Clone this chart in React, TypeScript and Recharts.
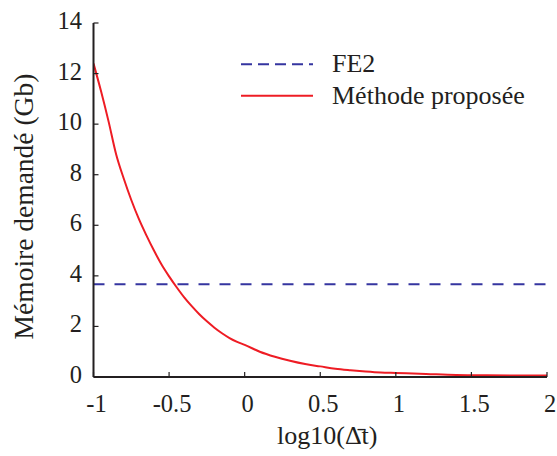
import React from 'react';
import { LineChart, Line, XAxis, YAxis, Legend, Label } from 'recharts';

const xTicks = [-1, -0.5, 0, 0.5, 1, 1.5, 2];
const yTicks = [0, 2, 4, 6, 8, 10, 12, 14];

const fe2X = [-1, 2];
const fe2Values = [3.67, 3.67];

const methodX = [
  -1, -0.95, -0.9, -0.85, -0.8, -0.75, -0.7, -0.65, -0.6, -0.55, -0.5, -0.45, -0.4, -0.35,
  -0.3, -0.25, -0.2, -0.15, -0.1, -0.05, 0, 0.1, 0.2, 0.3, 0.4, 0.5, 0.6, 0.7, 0.8, 0.9, 1.0,
  1.2, 1.4, 1.6, 1.8, 2.0,
];
const methodValues = [
  12.4, 11.3, 10.1, 8.8, 7.85, 7.0, 6.25, 5.6, 5.0, 4.45, 3.98, 3.55, 3.15, 2.8,
  2.48, 2.2, 1.95, 1.73, 1.54, 1.39, 1.27, 1.0, 0.8, 0.64, 0.51, 0.42, 0.33, 0.27, 0.22, 0.18, 0.16,
  0.12, 0.08, 0.065, 0.06, 0.06,
];

const fe2Data = fe2X.map((x, i) => ({ x, y: fe2Values[i] }));
const methodData = methodX.map((x, i) => ({ x, y: methodValues[i] }));

const FONT = "'Liberation Serif', 'Times New Roman', Times, serif";
const INK = '#231f20';
const BLUE = '#3535a0';
const RED = '#ee1c24';

const txtStyle = { fontFamily: FONT };

const XTick = (props: any) => {
  const { x, y, payload } = props;
  return (
    <g>
      <line x1={x} x2={x} y1={y} y2={y - 5} stroke={INK} strokeWidth={1.2} />
      <text x={x + 3} y={y + 35} textAnchor="middle" style={txtStyle} fontSize={24.5} fill={INK}>
        {String(payload.value)}
      </text>
    </g>
  );
};

const YTick = (props: any) => {
  const { x, y, payload } = props;
  return (
    <g>
      <line x1={x} x2={x + 5} y1={y} y2={y} stroke={INK} strokeWidth={1.2} />
      <text x={x - 11.5} y={y + 6} textAnchor="end" style={txtStyle} fontSize={24.5} fill={INK}>
        {String(payload.value)}
      </text>
    </g>
  );
};

const renderLegend = (props: any) => {
  const { payload } = props;
  return (
    <svg width={320} height={70} style={{ display: 'block' }}>
      {(payload || []).map((entry: any, i: number) => {
        const ly = 19.3 + i * 31.4;
        return (
          <g key={i}>
            <line
              x1={6}
              x2={78}
              y1={ly}
              y2={ly}
              stroke={entry.color}
              strokeWidth={2}
              strokeDasharray={i === 0 ? '11 6' : undefined}
            />
            <text x={97} y={ly + 8} style={txtStyle} fontSize={26} fill={INK}>
              {entry.value}
            </text>
          </g>
        );
      })}
    </svg>
  );
};

export default function App() {
  return (
    <div style={{ position: 'absolute', left: 0, top: 0, width: 557, height: 456, background: '#fff', fontFamily: FONT }}>
      <LineChart width={557} height={456} margin={{ top: 23, right: 10, bottom: 0, left: 0 }}>
        <XAxis
          dataKey="x"
          type="number"
          domain={[-1, 2]}
          ticks={xTicks}
          allowDataOverflow
          height={79}
          tickSize={0}
          tickMargin={0}
          tickLine={false}
          tick={<XTick />}
          axisLine={{ stroke: INK, strokeWidth: 2 }}
          interval={0}
        >
          <Label
            content={(p: any) => {
              const vb = p.viewBox || { x: 93.5, y: 377, width: 453.5, height: 79 };
              return (
                <text
                  x={vb.x + vb.width / 2 + 7}
                  y={vb.y + 67}
                  textAnchor="middle"
                  style={txtStyle}
                  fontSize={26}
                  fill={INK}
                >
                  {'log10(\u0394\u0304t)'}
                </text>
              );
            }}
          />
        </XAxis>
        <YAxis
          type="number"
          domain={[0, 14]}
          ticks={yTicks}
          width={93.5}
          tickSize={0}
          tickMargin={0}
          tickLine={false}
          tick={<YTick />}
          axisLine={{ stroke: INK, strokeWidth: 2 }}
          interval={0}
        >
          <Label
            content={(p: any) => {
              const vb = p.viewBox || { x: 0, y: 23, width: 93.5, height: 354 };
              const cx = 33;
              const cy = vb.y + vb.height / 2 + 6.5;
              return (
                <text
                  x={cx}
                  y={cy}
                  transform={`rotate(-90 ${cx} ${cy})`}
                  textAnchor="middle"
                  style={txtStyle}
                  fontSize={27.5}
                  fill={INK}
                >
                  Mémoire demandé (Gb)
                </text>
              );
            }}
          />
        </YAxis>
        <Legend
          layout="vertical"
          align="center"
          verticalAlign="middle"
          content={renderLegend}
          wrapperStyle={{ left: 235, top: 45, width: 320, height: 70 }}
        />
        <Line
          data={fe2Data}
          dataKey="y"
          name="FE2"
          stroke={BLUE}
          strokeWidth={2}
          strokeDasharray="11 10"
          dot={false}
          activeDot={false}
          isAnimationActive={false}
        />
        <Line
          data={methodData}
          dataKey="y"
          name="Méthode proposée"
          type="monotone"
          stroke={RED}
          strokeWidth={2}
          dot={false}
          activeDot={false}
          isAnimationActive={false}
        />
      </LineChart>
    </div>
  );
}
